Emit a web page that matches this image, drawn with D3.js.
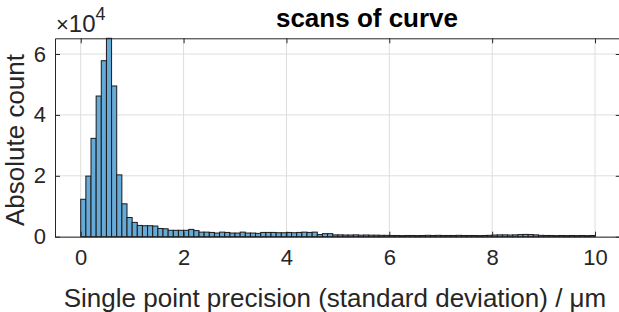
<!DOCTYPE html>
<html>
<head>
<meta charset="utf-8">
<script src="https://cdn.jsdelivr.net/npm/d3@7"></script>
<style>
  body { margin: 0; background: #fff; }
  svg { display: block; font-family: "Liberation Sans", Arial, sans-serif; }
</style>
</head>
<body>
<svg id="chart" width="619" height="312"></svg>
<script>
// histogram bins: 0.1 wide, from 0 to 10
var binWidth = 0.1;
var binStart = 0;
// counts per bin (absolute)
var counts = [
  12300, 19900, 32300, 46200, 57800, 65160, 49500, 20300, 10800, 6300,
  4700, 3700, 3600, 3600, 3500, 2700, 2600, 2100, 2100, 2100,
  2100, 2400, 2000, 1500, 1500, 1400, 1200, 1500, 1400, 1200,
  1200, 1500, 1200, 1200, 1100, 1400, 1400, 1400, 1300, 1300,
  1400, 1300, 1400, 1500, 1400, 1500, 700, 1000, 1000, 600,
  600, 550, 550, 600, 500, 550, 500, 500, 450, 450,
  400, 400, 350, 400, 400, 350, 400, 450, 400, 450,
  400, 400, 400, 450, 400, 400, 400, 350, 400, 450,
  550, 600, 600, 550, 600, 700, 750, 700, 600, 450,
  400, 400, 350, 400, 350, 400, 350, 400, 350, 400
];
var xTicks = [0, 2, 4, 6, 8, 10];
var yTicks = [0, 20000, 40000, 60000];
var titleText = "scans of curve";
var xLabelText = "Single point precision (standard deviation) / \u03bcm";
var yLabelText = "Absolute count";

var svg = d3.select("#chart"),
    margin = {top: 38.3, right: -1.75, bottom: 75.3, left: 55},
    width = +svg.attr("width") - margin.left - margin.right,
    height = +svg.attr("height") - margin.top - margin.bottom,
    g = svg.append("g").attr("transform", "translate(" + margin.left + "," + margin.top + ")");

var axisColor = "#262626";

var x = d3.scaleLinear().domain([-0.5, 10.5]).range([0, width]);
var y = d3.scaleLinear().domain([0, d3.max(counts)]).range([height, 0]);

// grid
g.append("g").selectAll("line.gx")
  .data(xTicks).enter().append("line")
  .attr("x1", function(d) { return x(d); })
  .attr("x2", function(d) { return x(d); })
  .attr("y1", 0).attr("y2", height)
  .attr("stroke", "#dedede").attr("stroke-width", 1);
g.append("g").selectAll("line.gy")
  .data(yTicks).enter().append("line")
  .attr("x1", 0).attr("x2", width)
  .attr("y1", function(d) { return y(d); })
  .attr("y2", function(d) { return y(d); })
  .attr("stroke", "#dedede").attr("stroke-width", 1);

// bars
g.append("g").selectAll("rect")
  .data(counts).enter().append("rect")
  .attr("x", function(d, i) { return x(binStart + i * binWidth); })
  .attr("width", function() { return x(binWidth) - x(0); })
  .attr("y", function(d) { return y(d); })
  .attr("height", function(d) { return height - y(d); })
  .attr("fill", "#66aad7")
  .attr("stroke", "#1a1a1a")
  .attr("stroke-width", 1);

// axes (matlab style: inward ticks, box)
var fmtY = function(d) { return d / 10000; };

var xAxis = g.append("g")
  .attr("transform", "translate(0," + height + ")")
  .call(d3.axisBottom(x).tickValues(xTicks).tickSizeInner(-5).tickSizeOuter(0).tickPadding(13));
var yAxis = g.append("g")
  .call(d3.axisLeft(y).tickValues(yTicks).tickFormat(fmtY).tickSizeInner(-5).tickSizeOuter(0).tickPadding(9));
g.append("g")
  .call(d3.axisTop(x).tickValues(xTicks).tickFormat("").tickSizeInner(-5).tickSizeOuter(0));
g.append("g")
  .attr("transform", "translate(" + width + ",0)")
  .call(d3.axisRight(y).tickValues(yTicks).tickFormat("").tickSizeInner(-5).tickSizeOuter(0));

g.selectAll(".domain").attr("stroke", axisColor);
g.selectAll(".tick line").attr("stroke", axisColor);
g.selectAll(".tick text")
  .attr("fill", axisColor)
  .attr("font-size", 22)
  .attr("font-family", "Liberation Sans, Arial, sans-serif");
xAxis.selectAll(".tick text").attr("dy", "0.71em");

// exponent label
var ex = svg.append("text")
  .attr("x", margin.left + 1)
  .attr("y", 32)
  .attr("fill", axisColor)
  .attr("font-family", "Liberation Sans, Arial, sans-serif")
  .attr("font-size", 24);
ex.append("tspan").attr("font-size", 22).text("\u00d7");
ex.append("tspan").attr("font-size", 24).text("10");
ex.append("tspan").attr("font-size", 18).attr("dy", -12).text("4");

// title
svg.append("text")
  .attr("x", 367)
  .attr("y", 27)
  .attr("text-anchor", "middle")
  .attr("fill", "#000")
  .attr("font-family", "Liberation Sans, Arial, sans-serif")
  .attr("font-size", 26)
  .attr("font-weight", "bold")
  .text(titleText);

// x label
svg.append("text")
  .attr("x", 335)
  .attr("y", 307)
  .attr("text-anchor", "middle")
  .attr("fill", axisColor)
  .attr("font-family", "Liberation Sans, Arial, sans-serif")
  .attr("font-size", 26)
  .text(xLabelText);

// y label
svg.append("text")
  .attr("transform", "translate(24,140) rotate(-90)")
  .attr("text-anchor", "middle")
  .attr("fill", axisColor)
  .attr("font-family", "Liberation Sans, Arial, sans-serif")
  .attr("font-size", 26)
  .text(yLabelText);
</script>
</body>
</html>
